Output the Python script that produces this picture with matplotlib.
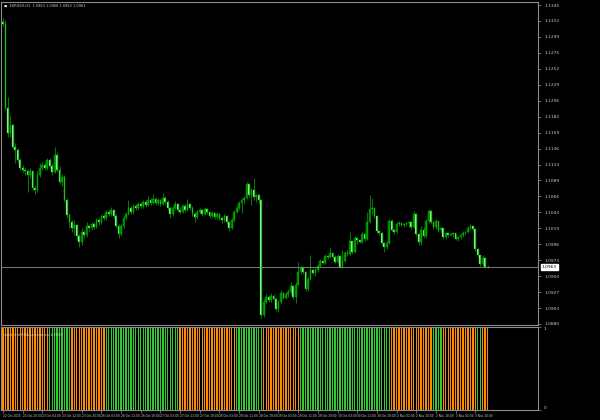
import numpy as np
import pandas as pd
import matplotlib
matplotlib.use("Agg")
import matplotlib.pyplot as plt

# EURUSD H1, 22 Oct - 3 Nov 2015
symbol = "EURUSD,H1"
first_open = 1.1320
closes = [
    1.1317, 1.1195, 1.1158, 1.1170, 1.1138, 1.1134, 1.1119, 1.1107, 1.1104, 1.1103,
    1.1097, 1.1103, 1.1078, 1.1075, 1.1097, 1.1107, 1.1112, 1.1107, 1.1119, 1.1110,
    1.1102, 1.1126, 1.1104, 1.1087, 1.1094, 1.1061, 1.1039, 1.1029, 1.1020, 1.1024,
    1.1008, 1.0999, 1.1014, 1.1010, 1.1023, 1.1020, 1.1026, 1.1021, 1.1032, 1.1029,
    1.1037, 1.1034, 1.1043, 1.1040, 1.1046, 1.1037, 1.1023, 1.1011, 1.1023, 1.1034,
    1.1040, 1.1049, 1.1043, 1.1052, 1.1049, 1.1055, 1.1052, 1.1058, 1.1053, 1.1061,
    1.1056, 1.1062, 1.1056, 1.1061, 1.1055, 1.1064, 1.1058, 1.1049, 1.1040, 1.1049,
    1.1055, 1.1046, 1.1043, 1.1052, 1.1046, 1.1055, 1.1049, 1.1040, 1.1036, 1.1043,
    1.1046, 1.1040, 1.1048, 1.1043, 1.1037, 1.1042, 1.1036, 1.1040, 1.1034, 1.1032,
    1.1037, 1.1029, 1.1020, 1.1032, 1.1043, 1.1049, 1.1056, 1.1061, 1.1064, 1.1084,
    1.1068, 1.1075, 1.1065, 1.1068, 1.1061, 1.0893, 1.0912, 1.0919, 1.0915, 1.0921,
    1.0916, 1.0902, 1.0912, 1.0925, 1.0918, 1.0924, 1.0927, 1.0935, 1.0919, 1.0937,
    1.0956, 1.0962, 1.0956, 1.0931, 1.0945, 1.0959, 1.0954, 1.0959, 1.0964, 1.0972,
    1.0969, 1.0979, 1.0978, 1.0983, 1.0978, 1.0970, 1.0979, 1.0963, 1.0972, 1.0983,
    1.0982, 1.1001, 1.0985, 1.1005, 1.1002, 1.0999, 1.1011, 1.1004, 1.1029, 1.1048,
    1.1049, 1.1037, 1.1016, 1.1013, 1.0998, 1.0992, 1.0998, 1.1030, 1.1017, 1.1014,
    1.1026, 1.1027, 1.1024, 1.1026, 1.1027, 1.1029, 1.1021, 1.1040, 1.1011, 1.0999,
    1.1017, 1.1008, 1.1030, 1.1045, 1.1029, 1.1021, 1.1030, 1.1017, 1.1020, 1.1007,
    1.1013, 1.1010, 1.1011, 1.1013, 1.1004, 1.1007, 1.1010, 1.1013, 1.1014, 1.1020,
    1.1023, 1.1018, 1.0989, 1.0980, 1.0967, 1.0976, 1.0963, 1.0963,
]
highs = [
    1.1326, 1.1323, 1.1211, 1.1185, 1.1172, 1.1144, 1.1137, 1.1122, 1.1112, 1.1107,
    1.1106, 1.1107, 1.1104, 1.1083, 1.1104, 1.1115, 1.1116, 1.1116, 1.1122, 1.1122,
    1.1115, 1.1138, 1.1131, 1.1110, 1.1099, 1.1097, 1.1064, 1.1042, 1.1032, 1.1032,
    1.1026, 1.1011, 1.1020, 1.1017, 1.1029, 1.1026, 1.1029, 1.1029, 1.1034, 1.1034,
    1.1040, 1.1040, 1.1046, 1.1046, 1.1050, 1.1048, 1.1040, 1.1026, 1.1026, 1.1037,
    1.1043, 1.1061, 1.1052, 1.1055, 1.1055, 1.1058, 1.1058, 1.1061, 1.1061, 1.1067,
    1.1064, 1.1069, 1.1065, 1.1064, 1.1062, 1.1071, 1.1067, 1.1061, 1.1052, 1.1052,
    1.1059, 1.1056, 1.1050, 1.1055, 1.1055, 1.1062, 1.1056, 1.1052, 1.1043, 1.1046,
    1.1049, 1.1048, 1.1050, 1.1049, 1.1045, 1.1045, 1.1043, 1.1043, 1.1042, 1.1037,
    1.1040, 1.1039, 1.1030, 1.1034, 1.1046, 1.1053, 1.1059, 1.1064, 1.1067, 1.1087,
    1.1086, 1.1078, 1.1093, 1.1069, 1.1069, 1.1062, 1.0916, 1.0924, 1.0922, 1.0925,
    1.0924, 1.0919, 1.0915, 1.0929, 1.0927, 1.0927, 1.0931, 1.0941, 1.0937, 1.0941,
    1.0970, 1.0966, 1.0964, 1.0957, 1.0950, 1.0980, 1.0962, 1.0962, 1.0967, 1.0975,
    1.0973, 1.0982, 1.0980, 1.0992, 1.0985, 1.0980, 1.0982, 1.0980, 1.0988, 1.0986,
    1.0988, 1.1014, 1.0999, 1.1008, 1.1007, 1.1002, 1.1014, 1.1013, 1.1043, 1.1068,
    1.1064, 1.1050, 1.1039, 1.1017, 1.1014, 1.0999, 1.1001, 1.1033, 1.1033, 1.1020,
    1.1029, 1.1030, 1.1029, 1.1027, 1.1029, 1.1030, 1.1030, 1.1045, 1.1042, 1.1011,
    1.1023, 1.1021, 1.1033, 1.1048, 1.1046, 1.1030, 1.1033, 1.1030, 1.1021, 1.1020,
    1.1014, 1.1013, 1.1013, 1.1014, 1.1013, 1.1008, 1.1011, 1.1016, 1.1016, 1.1023,
    1.1026, 1.1023, 1.1020, 1.0991, 1.0980, 1.0980, 1.0978, 1.0966,
]
lows = [
    1.1314, 1.1192, 1.1153, 1.1153, 1.1137, 1.1115, 1.1116, 1.1104, 1.1102, 1.1097,
    1.1072, 1.1093, 1.1075, 1.1069, 1.1072, 1.1094, 1.1104, 1.1104, 1.1104, 1.1107,
    1.1097, 1.1100, 1.1102, 1.1084, 1.1081, 1.1058, 1.1034, 1.1020, 1.1014, 1.1010,
    1.1002, 1.0992, 1.0995, 1.1005, 1.1007, 1.1016, 1.1017, 1.1018, 1.1020, 1.1024,
    1.1026, 1.1032, 1.1032, 1.1037, 1.1037, 1.1034, 1.1020, 1.1005, 1.1008, 1.1020,
    1.1032, 1.1039, 1.1040, 1.1040, 1.1046, 1.1046, 1.1049, 1.1049, 1.1050, 1.1052,
    1.1053, 1.1055, 1.1053, 1.1053, 1.1052, 1.1053, 1.1055, 1.1046, 1.1034, 1.1037,
    1.1046, 1.1043, 1.1040, 1.1042, 1.1043, 1.1045, 1.1046, 1.1037, 1.1029, 1.1033,
    1.1040, 1.1037, 1.1039, 1.1040, 1.1034, 1.1034, 1.1033, 1.1033, 1.1032, 1.1027,
    1.1029, 1.1026, 1.1016, 1.1018, 1.1029, 1.1042, 1.1046, 1.1042, 1.1055, 1.1062,
    1.1065, 1.1053, 1.1061, 1.1058, 1.1056, 1.0889, 1.0890, 1.0909, 1.0912, 1.0912,
    1.0915, 1.0899, 1.0897, 1.0909, 1.0916, 1.0916, 1.0919, 1.0924, 1.0916, 1.0911,
    1.0937, 1.0953, 1.0953, 1.0928, 1.0928, 1.0944, 1.0951, 1.0950, 1.0956, 1.0963,
    1.0967, 1.0967, 1.0975, 1.0976, 1.0975, 1.0969, 1.0969, 1.0962, 1.0962, 1.0970,
    1.0979, 1.0980, 1.0982, 1.0983, 1.0996, 1.0998, 1.0998, 1.1001, 1.1002, 1.1027,
    1.1039, 1.1034, 1.1013, 1.1010, 1.0995, 1.0985, 1.0989, 1.0996, 1.1016, 1.1011,
    1.1013, 1.1023, 1.1023, 1.1021, 1.1023, 1.1021, 1.1018, 1.1020, 1.1008, 1.0995,
    1.0995, 1.1005, 1.1005, 1.1027, 1.1026, 1.1018, 1.1018, 1.1014, 1.1014, 1.1004,
    1.1004, 1.1007, 1.1008, 1.1007, 1.1002, 1.1001, 1.1004, 1.1007, 1.1010, 1.1013,
    1.1017, 1.1016, 1.0986, 1.0978, 1.0964, 1.0964, 1.0962, 1.0962,
]
# indicator state, run lengths alternating down (orange) / up (green), first run is down
trend_runs = [19, 9, 14, 30, 23, 11, 15, 37, 17, 4, 14, 2, 3]
# trading hours shown on the chart: (first bar, number of bars)
sessions = [("2015-10-22 12:00", 36), ("2015-10-25 23:00", 121), ("2015-11-01 23:00", 41)]
price_top, price_bottom = 1.1345, 1.0880
indicator_name = "trend_ind HMA separation 1.0000"

o = np.array([first_open] + closes[:-1])
c = np.array(closes)
h = np.maximum(np.array(highs), np.maximum(o, c))
l = np.minimum(np.array(lows), np.minimum(o, c))
x = np.arange(len(c))
up = c >= o

times = []
for start, n in sessions:
    times += list(pd.date_range(start, periods=n, freq="h"))

trend = []
for k, n in enumerate(trend_runs):
    trend += [k % 2] * n
ind_cols = np.where(np.array(trend) == 1, "#2ecc2e", "#ff8c00")

grey = "#8c8c8c"
txt = "#d0d0d0"
wick_col = "#00b000"

fig = plt.figure(figsize=(6, 4.2), dpi=100, facecolor="black")
ax = fig.add_axes([0.0017, 0.2262, 0.895, 0.769], facecolor="black")
ind = fig.add_axes([0.0017, 0.0238, 0.895, 0.1976], facecolor="black", sharex=ax)

# candles
ax.vlines(x, l, h, color=wick_col, lw=0.5)
body_h = np.maximum(np.abs(c - o), 0.00003)
ax.bar(x, body_h, bottom=np.minimum(o, c), width=0.7,
       color=np.where(up, "#007a00", "#b8f5b8"), edgecolor=wick_col, lw=0.3)

# price scale: labels sit at pixel rows 5..324, axes spans rows 2..325
ppx = (price_top - price_bottom) / 319
ax.set_ylim(price_bottom - ppx, price_top + 3 * ppx)
ax.set_xlim(-0.8, 217.5)
yt = np.linspace(price_top, price_bottom, 21)
ax.yaxis.tick_right()
ax.set_yticks(yt)
ax.set_yticklabels([f"{v:.4f}" for v in yt])
ax.tick_params(axis="y", colors=grey, labelcolor=txt, labelsize=3.2, length=2, width=0.5, pad=3)
ax.tick_params(axis="x", bottom=False, labelbottom=False)

last = c[-1]
ax.axhline(last, color=grey, lw=0.6)
ax.annotate(f"{last:.4f}", xy=(1.0, last), xycoords=("axes fraction", "data"),
            xytext=(2.5, 0), textcoords="offset points", va="center", ha="left",
            fontsize=3.2, color="black",
            bbox=dict(boxstyle="square,pad=0.2", fc="white", ec="white"))

ax.text(0.006, 0.993, f"\u25a0  {symbol}  {o[-1]:.4f} {h[-1]:.4f} {l[-1]:.4f} {c[-1]:.4f}",
        transform=ax.transAxes, color=txt, fontsize=2.5, va="top", ha="left")

# indicator panel
ind.bar(x, np.ones(len(x)), width=0.55, color=ind_cols, lw=0)
ind.set_ylim(0, 1)
ind.yaxis.tick_right()
ind.set_yticks([0, 1])
ind.set_yticklabels(["0", "1"])
for lab, va in zip(ind.get_yticklabels(), ["bottom", "top"]):
    lab.set_va(va)
ind.tick_params(axis="y", colors=grey, labelcolor=txt, labelsize=3.2, length=2, width=0.5, pad=2)
ind.text(0.004, 0.93, indicator_name, transform=ind.transAxes, color=txt,
         fontsize=2.5, va="top", ha="left")

tick_idx = x[::8]
labels = []
for i in tick_idx:
    t = times[i]
    labels.append(f"{t.day} {t:%b %Y}" if i == 0 else f"{t.day} {t:%b %H:%M}")
ind.set_xticks(tick_idx)
ind.set_xticklabels(labels)
ind.tick_params(axis="x", colors=grey, labelcolor=txt, labelsize=2.1, length=2, width=0.5, pad=1)
for lab in ind.get_xticklabels():
    lab.set_ha("left")

for a in (ax, ind):
    for s in a.spines.values():
        s.set_color(grey)
        s.set_linewidth(0.8)

fig.savefig("out.png", dpi=100, facecolor="black")
